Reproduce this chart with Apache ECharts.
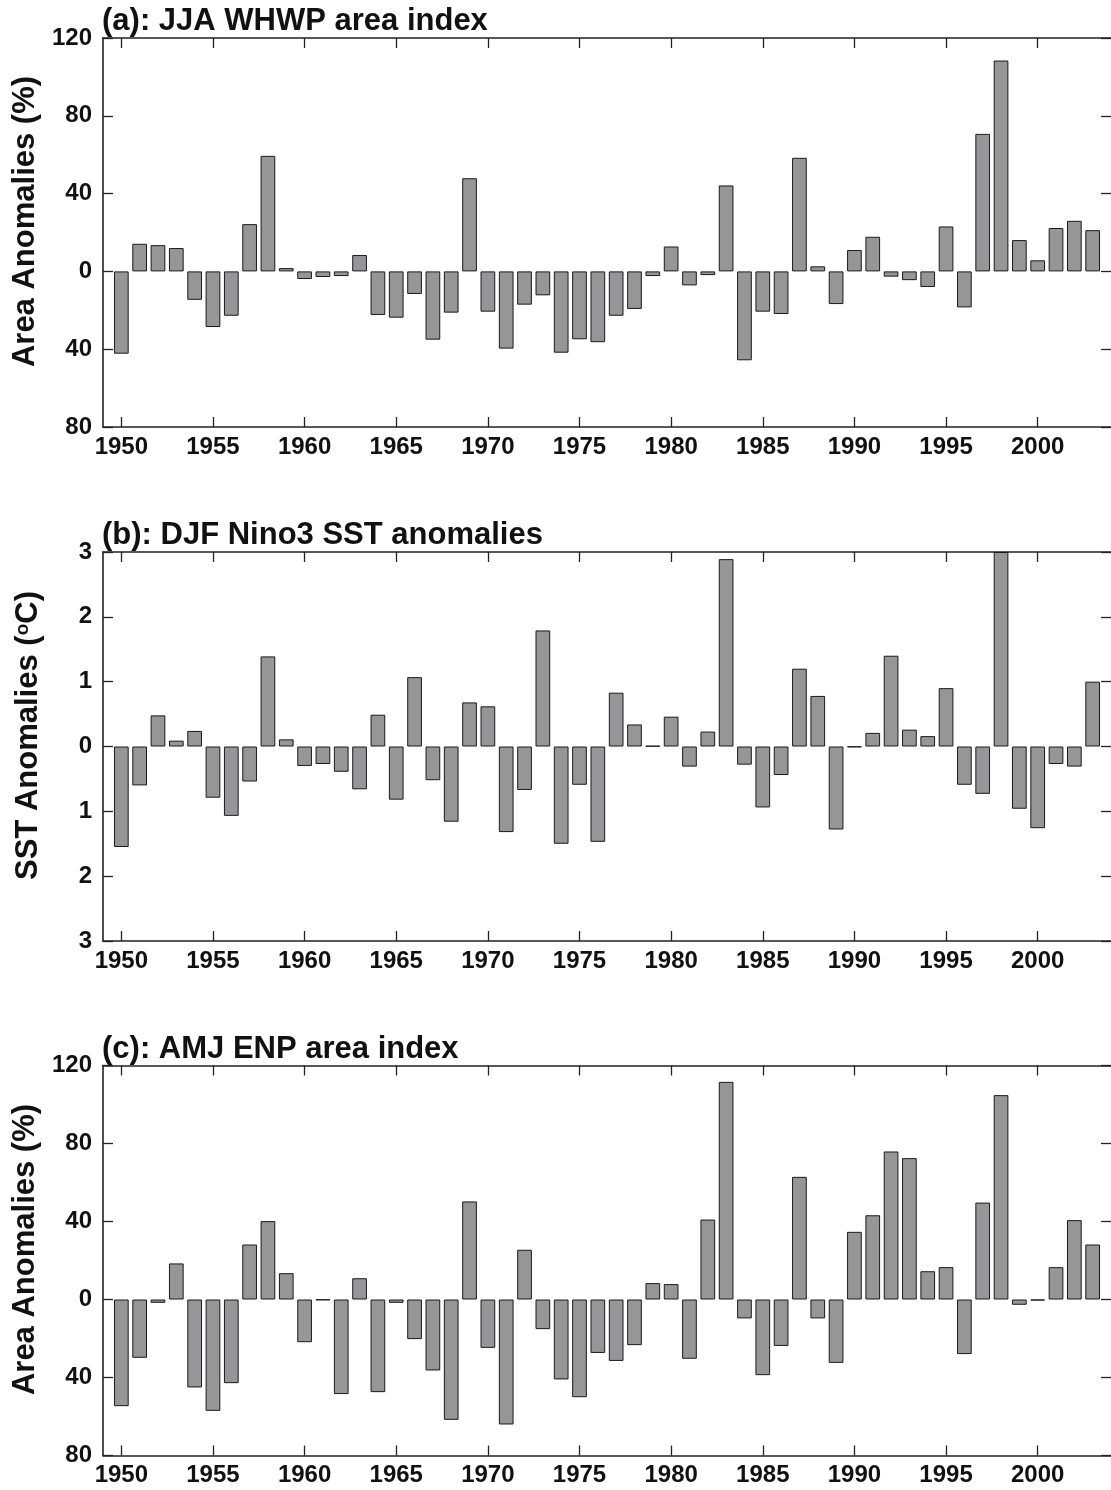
<!DOCTYPE html>
<html>
<head>
<meta charset="utf-8">
<script src="https://cdn.jsdelivr.net/npm/echarts@6/dist/echarts.min.js"></script>
<style>
html,body{margin:0;padding:0;background:#fff;}
#chart{width:1111px;height:1490px;}
</style>
</head>
<body>
<div id="chart"></div>
<script>
const years = [1950,1951,1952,1953,1954,1955,1956,1957,1958,1959,
  1960,1961,1962,1963,1964,1965,1966,1967,1968,1969,
  1970,1971,1972,1973,1974,1975,1976,1977,1978,1979,
  1980,1981,1982,1983,1984,1985,1986,1987,1988,1989,
  1990,1991,1992,1993,1994,1995,1996,1997,1998,1999,
  2000,2001,2002,2003];

const whwpJJA = [-42.3,14.2,13.5,12.0,-14.6,-28.6,-22.8,24.3,59.4,1.7,
  -3.9,-2.9,-2.4,8.4,-22.4,-23.8,-11.6,-35.1,-21.2,47.9,
  -20.7,-39.7,-17.1,-12.3,-41.8,-34.9,-36.4,-22.8,-19.3,-2.4,
  12.8,-7.2,-1.9,44.2,-45.7,-20.7,-21.9,58.4,2.6,-16.8,
  11.0,17.8,-2.7,-4.5,-8.0,23.1,-18.5,70.7,108.4,16.1,
  5.7,22.3,26.0,21.2];

const nino3DJF = [-1.55,-0.60,0.48,0.09,0.24,-0.79,-1.07,-0.54,1.39,0.11,
  -0.30,-0.27,-0.39,-0.66,0.49,-0.82,1.07,-0.52,-1.16,0.68,
  0.62,-1.32,-0.67,1.79,-1.50,-0.59,-1.47,0.83,0.34,0.01,
  0.46,-0.31,0.23,2.89,-0.28,-0.94,-0.44,1.20,0.78,-1.28,
  -0.01,0.21,1.40,0.26,0.16,0.90,-0.59,-0.73,3.0,-0.96,
  -1.26,-0.27,-0.31,1.00];

const enpAMJ = [-54.7,-29.9,-1.7,18.5,-45.1,-57.1,-42.9,28.2,40.2,13.5,
  -21.9,-0.3,-48.5,10.9,-47.5,-1.7,-20.3,-36.4,-61.7,50.3,
  -24.8,-64.1,25.5,-15.2,-41.0,-50.1,-27.4,-31.5,-23.4,8.4,
  7.9,-30.4,41.0,111.6,-9.7,-38.8,-23.8,62.9,-9.7,-32.5,
  34.7,43.2,75.9,72.5,14.5,16.6,-28.0,49.7,104.8,-2.7,
  -0.5,16.6,40.7,28.2];

const yearTicks = [1950,1955,1960,1965,1970,1975,1980,1985,1990,1995,2000];
const panelTitles = ['(a): JJA WHWP area index','(b): DJF Nino3 SST anomalies','(c): AMJ ENP area index'];
const yNames = ['Area Anomalies (%)','SST Anomalies ({sup|o}C)','Area Anomalies (%)'];
const yRanges = [[-80,120,40],[-3,3,1],[-80,120,40]];
const seriesValues = [whwpJJA, nino3DJF, enpAMJ];

const FONT = '"Liberation Sans", Arial, Helvetica, sans-serif';
const AX = '#222';
const grids = [
  {left:103, top:38, width:1010, height:389},
  {left:103, top:552, width:1010, height:389},
  {left:103, top:1065.5, width:1010, height:390}
];
const titleTops = [6, 520, 1034];

const chart = echarts.init(document.getElementById('chart'), null, {renderer:'canvas'});

const xAxes = [], yAxes = [], series = [], titles = [];
grids.forEach((g, i) => {
  const [ymin, ymax, yint] = yRanges[i];
  const common = {
    type:'value', min:1949, max:2004, gridIndex:i,
    axisLine:{show:true, onZero:false, lineStyle:{color:AX, width:1.6}},
    splitLine:{show:false}
  };
  xAxes.push(Object.assign({}, common, {
    position:'bottom',
    axisTick:{show:true, inside:true, length:10, customValues:yearTicks, lineStyle:{color:AX, width:1.3}},
    axisLabel:{show:true, customValues:yearTicks, margin:8, color:'#111', fontFamily:FONT, fontWeight:'bold', fontSize:24, formatter:v=>String(v)}
  }));
  xAxes.push(Object.assign({}, common, {
    position:'top',
    axisTick:{show:true, inside:true, length:10, customValues:yearTicks, lineStyle:{color:AX, width:1.3}},
    axisLabel:{show:false}
  }));
  const ycommon = {
    type:'value', min:ymin, max:ymax, interval:yint, gridIndex:i,
    axisTick:{show:true, inside:true, length:10, lineStyle:{color:AX, width:1.3}},
    splitLine:{show:false}
  };
  yAxes.push(Object.assign({}, ycommon, {
    position:'left',
    axisLine:{show:true, onZero:false, lineStyle:{color:AX, width:1.6}},
    name: yNames[i], nameLocation:'middle', nameGap:59, nameRotate:90,
    nameTextStyle:{color:'#111', fontFamily:FONT, fontWeight:'bold', fontSize:31, padding:[0,0,0,22],
      rich:{sup:{fontSize:19, fontWeight:'bold', fontFamily:FONT, color:'#111', verticalAlign:'top', padding:[0,0,12,0]}}},
    axisLabel:{show:true, margin:11, color:'#111', fontFamily:FONT, fontWeight:'bold', fontSize:24,
      formatter:v=>String(Math.abs(v))}
  }));
  yAxes.push(Object.assign({}, ycommon, {position:'right', axisLine:{show:false, onZero:false}, axisLabel:{show:false}}));
  titles.push({
    text: panelTitles[i], left:102, top:titleTops[i], padding:0,
    textStyle:{color:'#111', fontFamily:FONT, fontWeight:'bold', fontSize:31}
  });
  series.push({
    type:'bar', xAxisIndex:i*2, yAxisIndex:i*2, barWidth:14.7,
    data: years.map((y, k) => [y, seriesValues[i][k]]),
    itemStyle:{color:'#969698', borderColor:'#1a1a1a', borderWidth:1},
    silent:true, animation:false, clip:true
  });
});

chart.setOption({
  backgroundColor:'#fff',
  animation:false,
  title: titles,
  grid: grids,
  xAxis: xAxes,
  yAxis: yAxes,
  series: series
});
</script>
</body>
</html>
